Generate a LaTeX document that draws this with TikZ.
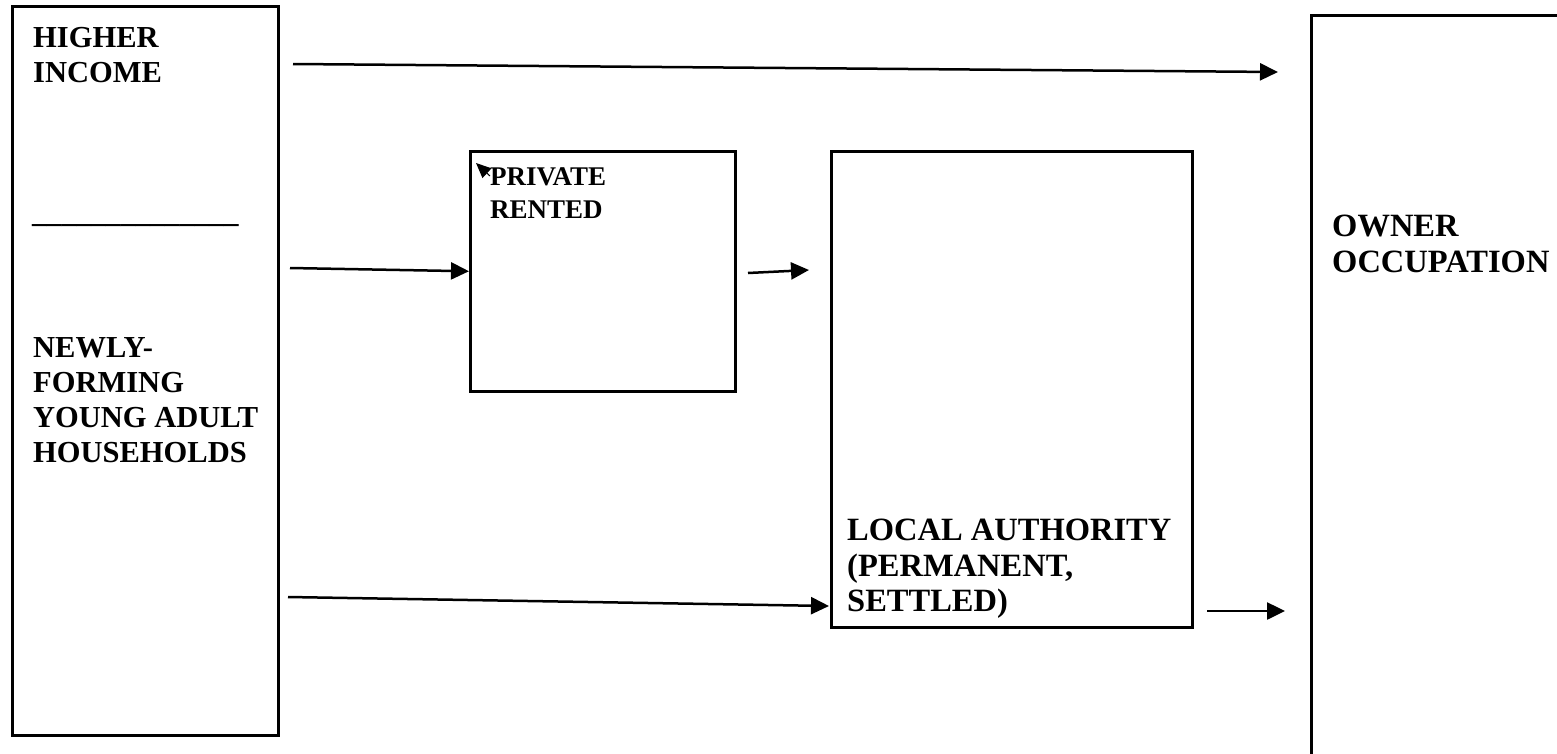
\documentclass[tikz,border=0pt]{standalone}
\usepackage{fontspec}
\setmainfont{Liberation Serif}
\usetikzlibrary{arrows.meta, positioning}

\begin{document}
\begin{tikzpicture}[x=1pt, y=-1pt,
  box/.style={draw, line width=2.5pt, anchor=north west, inner sep=0pt},
  main text/.style={anchor=north west, inner sep=0pt, align=left,
    font=\fontsize{30.5}{35}\selectfont\bfseries},
  big text/.style={main text, font=\fontsize{32.5}{35.5}\selectfont\bfseries},
  small text/.style={main text, font=\fontsize{27}{33}\selectfont\bfseries},
  flow/.style={line width=2.5pt, -{Triangle[length=18pt, width=17pt]}}]

\useasboundingbox (0,0) rectangle (1557,753);

% boxes
\node[box, minimum width=266pt, minimum height=729pt] (newly) at (11,5) {};
\node[box, minimum width=265pt, minimum height=240pt] (private) at (469,150) {};
\node[box, minimum width=361pt, minimum height=476pt] (la) at (830,150) {};
\node[box, minimum width=300pt, minimum height=800pt] (owner) at (1310,14) {};

% texts
\node[main text] (higher text) at (33,27) {HIGHER\\INCOME};
\node[main text, font=\fontsize{29.5}{35}\selectfont\bfseries, anchor=base west]
  (divider) at (32,222) {\_\_\_\_\_\_\_\_\_\_\_\_\_\_};
\node[main text] (newly text) at (33,337) {NEWLY-\\FORMING\\YOUNG ADULT\\HOUSEHOLDS};
\node[small text] (private text) at (490,167) {PRIVATE\\RENTED};
\node[big text] (la text) at (847,519) {LOCAL AUTHORITY\\(PERMANENT,\\SETTLED)};
\node[big text] (owner text) at (1332,215) {OWNER\\OCCUPATION};

% connectors
\coordinate (top tail) at (293,64);
\coordinate (top head) at (1278,72);
\coordinate (mid tail) at (290,268);
\coordinate (short tail) at (748,273);
\coordinate (short head) at (809,270);
\coordinate (low tail) at (288,597);
\coordinate (low head) at (829,606);
\coordinate (right tail) at (1207,611);
\coordinate (right head) at (1285,611);
\coordinate (stub tail) at (490,176);
\coordinate (stub head) at (476,163);

\draw[flow] (top tail) -- (top head);
\draw[flow] (mid tail) -- (private.west);
\draw[flow] (short tail) -- (short head);
\draw[flow] (low tail) -- (low head);
\draw[flow] (right tail) -- (right head);
\draw[line width=1pt, -{Triangle[length=15pt, width=13pt]}] (stub tail) -- (stub head);
\end{tikzpicture}
\end{document}
